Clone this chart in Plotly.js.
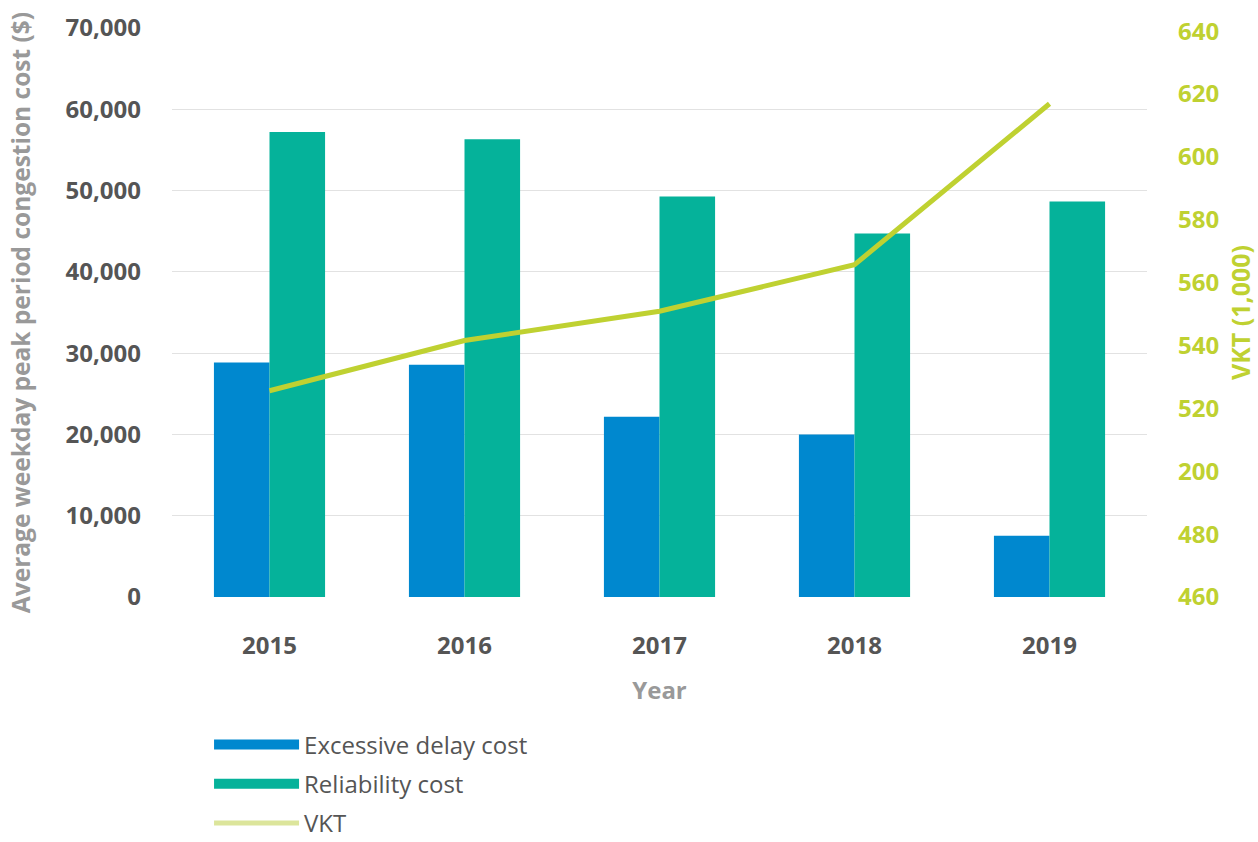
<!DOCTYPE html>
<html>
<head>
<meta charset="utf-8">
<script src="https://cdn.plot.ly/plotly-3.0.1.min.js"></script>
<style>html,body{margin:0;padding:0;background:#fff;}#chart{width:1258px;height:842px;}</style>
</head>
<body>
<div id="chart"></div>
<script>
const years = ['2015', '2016', '2017', '2018', '2019'];
const excessiveDelayCost = [28850, 28570, 22160, 20000, 7520];
const reliabilityCost = [57200, 56300, 49280, 44720, 48670];
const vkt = [525.6, 541.6, 550.9, 565.7, 616.9];
const leftTickVals = [0, 10000, 20000, 30000, 40000, 50000, 60000, 70000];
const leftTickText = ['0', '10,000', '20,000', '30,000', '40,000', '50,000', '60,000', '70,000'];
const rightTickVals = [460, 480, 500, 520, 540, 560, 580, 600, 620, 640];
const rightTickText = ['460', '480', '200', '520', '540', '560', '580', '600', '620', '640'];
const seriesNames = ['Excessive delay cost', 'Reliability cost', 'VKT'];

const FONT = 'Open Sans, sans-serif';
const BLUE = '#0088CF', GREEN = '#05B29A', LIME = '#BFD131', LIME_LEGEND = '#DCE59B';

const traces = [
  {type: 'bar', name: seriesNames[0], x: years, y: excessiveDelayCost,
   marker: {color: BLUE, line: {width: 0}}, yaxis: 'y', showlegend: false},
  {type: 'bar', name: seriesNames[1], x: years, y: reliabilityCost,
   marker: {color: GREEN, line: {width: 0}}, yaxis: 'y', showlegend: false},
  {type: 'scatter', mode: 'lines', name: seriesNames[2], x: years, y: vkt,
   line: {color: LIME, width: 5}, yaxis: 'y2', showlegend: false},
  // legend swatches (wide bars as in the original)
  {type: 'scatter', mode: 'lines', name: seriesNames[0], x: [null], y: [null],
   line: {color: BLUE, width: 12}, legendgroup: 'a', hoverinfo: 'skip'},
  {type: 'scatter', mode: 'lines', name: seriesNames[1], x: [null], y: [null],
   line: {color: GREEN, width: 12}, legendgroup: 'b', hoverinfo: 'skip'},
  {type: 'scatter', mode: 'lines', name: seriesNames[2], x: [null], y: [null],
   line: {color: LIME_LEGEND, width: 5}, legendgroup: 'c', hoverinfo: 'skip'}
];

const layout = {
  width: 1258, height: 842,
  margin: {l: 172, r: 111, t: 28, b: 245},
  paper_bgcolor: '#fff', plot_bgcolor: '#fff',
  font: {family: FONT, color: '#555'},
  barmode: 'group', bargap: 0.43, bargroupgap: 0,
  showlegend: true,
  legend: {xref: 'paper', yref: 'container', x: 0.038, xanchor: 'left',
           y: 0.142, yanchor: 'top', orientation: 'v',
           font: {family: FONT, size: 24, color: '#555'}, traceorder: 'grouped',
           itemwidth: 85, tracegroupgap: 5, bgcolor: 'rgba(0,0,0,0)'},
  xaxis: {type: 'category', showgrid: false, zeroline: false, showline: false,
          tickfont: {family: FONT, size: 24, color: '#555', weight: 'bold'},
          ticks: '', ticklabelstandoff: 32,
          title: {text: 'Year', font: {family: FONT, size: 24, color: '#999', weight: 'bold'}, standoff: 22}},
  yaxis: {range: [0, 70000], tickvals: leftTickVals, ticktext: leftTickText,
          showgrid: true, gridcolor: '#e2e2e2', gridwidth: 1, zeroline: false, showline: false,
          tickfont: {family: FONT, size: 24, color: '#555', weight: 'bold'},
          ticks: '', ticklabelstandoff: 30,
          title: {text: 'Average weekday peak period congestion cost ($)',
                  font: {family: FONT, size: 24.5, color: '#999', weight: 'bold'}, standoff: 27}},
  yaxis2: {overlaying: 'y', side: 'right', range: [460, 641],
           tickvals: rightTickVals, ticktext: rightTickText,
           showgrid: false, zeroline: false, showline: false,
           tickfont: {family: FONT, size: 24, color: LIME, weight: 'bold'},
           ticks: '', ticklabelstandoff: 30,
           title: {text: 'VKT (1,000)', font: {family: FONT, size: 25, color: LIME, weight: 'bold'}, standoff: 14}}
};

Plotly.newPlot('chart', traces, layout, {displayModeBar: false, staticPlot: true});
</script>
</body>
</html>
